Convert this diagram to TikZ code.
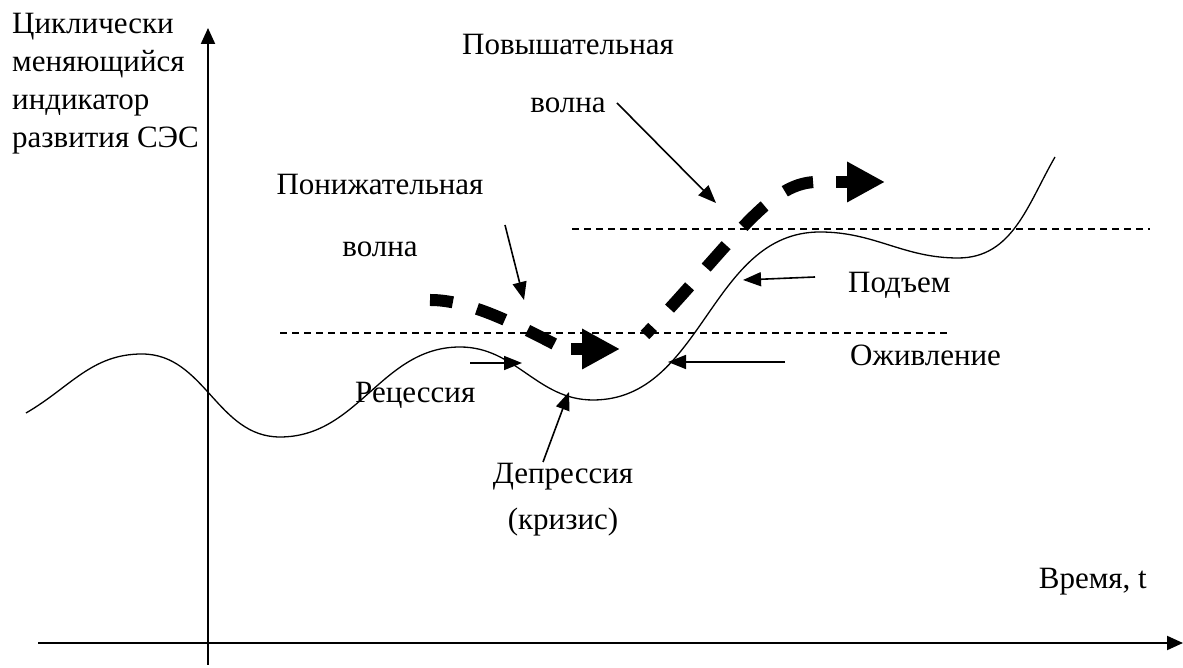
\documentclass[tikz,border=0pt]{standalone}
\usepackage{fontspec}
\setmainfont{Liberation Serif}
\usetikzlibrary{arrows.meta}

\begin{document}
\begin{tikzpicture}[x=1pt, y=1pt, >={Triangle[length=18pt,width=14pt]},
  lbl/.style={font=\fontsize{31}{#1}\selectfont, inner sep=0pt, align=center},
  lbl/.default=36,
  ptr/.style={->, line width=1.6pt},
  axis/.style={-{Triangle[length=16pt,width=14pt]}, line width=2pt},
  level/.style={line width=1.1pt, dash pattern=on 7pt off 5pt},
  wave/.style={line width=12pt, dash pattern=on 30pt off 25pt},
  wavetip/.style={line width=12pt, -{Triangle[length=38pt,width=38pt]}}]

\useasboundingbox (0,0) rectangle (1183,668);

\coordinate (xl) at (38,25);
\coordinate (xr) at (1183,25);
\coordinate (yb) at (208,3);
\coordinate (yt) at (208,640);
\draw [axis] (xl) -- (xr);
\draw [axis] (yb) -- (yt);

\draw [level] (572,439) -- (1150,439);
\draw [level] (280,335) -- (948,335);

\draw [line width=1.3pt] (26,255) to[out=30,in=180] (142,314)
  to[out=0,in=180] (280,231) to[out=0,in=180] (460,321)
  to[out=0,in=180] (593,268) to[out=0,in=180] (820,436)
  to[out=0,in=180] (958,410) to[out=0,in=240] (1055,511);

\draw [wave, dash phase=7pt] (430,368) .. controls (465,368) and (505,350) .. (560,321);
\draw [wavetip] (571,319) -- (620,319);
\draw [wave, dash phase=19pt] (645,333) .. controls (735,428) and (768,484) .. (815,486);
\draw [wavetip] (836,486) -- (885,486);

\node [lbl=38, anchor=base west, align=left] (ylabel) at (12,520) {Циклически\\меняющийся\\индикатор\\развития СЭС};
\node [lbl, anchor=base east] (xlabel) at (1147,79) {Время, t};
\node [lbl=58, anchor=base] (up) at (568,555) {Повышательная\\волна};
\node [lbl=62, anchor=base] (down) at (380,411) {Понижательная\\волна};
\node [lbl, anchor=base west] (rise) at (848,375) {Подъем};
\node [lbl, anchor=base west] (revival) at (850,302) {Оживление};
\node [lbl, anchor=base west] (recess) at (355,265) {Рецессия};
\node [lbl=46, anchor=base] (depr) at (563,138) {Депрессия\\(кризис)};

\coordinate (up-s) at (617,565);
\coordinate (up-e) at (716,465);
\coordinate (down-s) at (505,443);
\coordinate (down-e) at (524,368);
\coordinate (rise-s) at (815,391);
\coordinate (rise-e) at (743,388);
\coordinate (revival-s) at (785,306);
\coordinate (revival-e) at (668,306);
\coordinate (recess-s) at (470,305);
\coordinate (recess-e) at (522,305);
\coordinate (depr-s) at (543,206);
\coordinate (depr-e) at (569,276);
\draw [ptr] (up-s) -- (up-e);
\draw [ptr] (down-s) -- (down-e);
\draw [ptr] (rise-s) -- (rise-e);
\draw [ptr] (revival-s) -- (revival-e);
\draw [ptr] (recess-s) -- (recess-e);
\draw [ptr] (depr-s) -- (depr-e);

\end{tikzpicture}
\end{document}
